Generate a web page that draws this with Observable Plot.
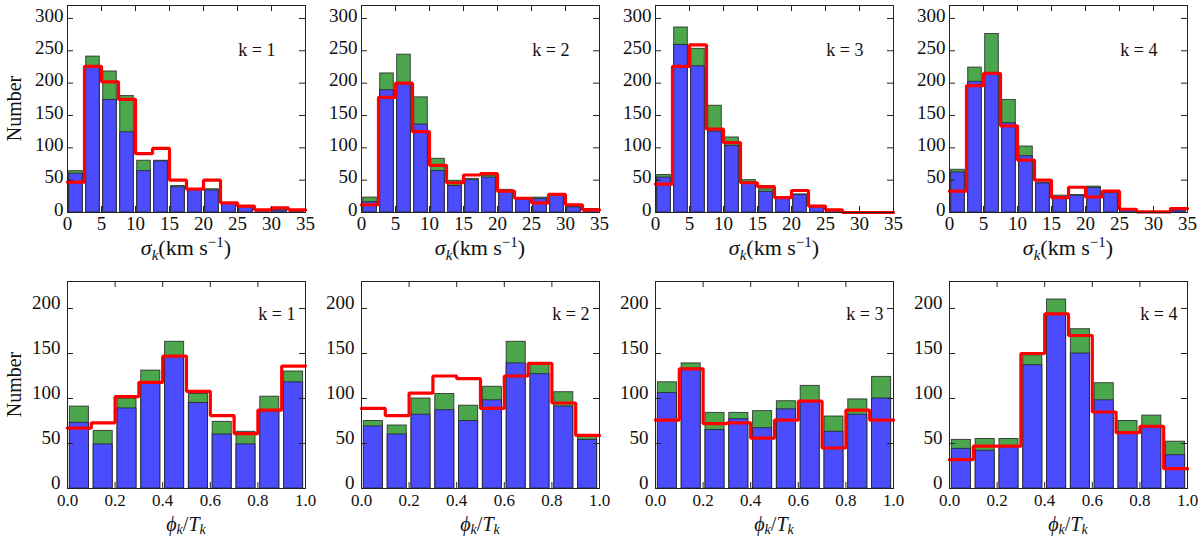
<!DOCTYPE html>
<html>
<head>
<meta charset="utf-8">
<script src="https://cdn.jsdelivr.net/npm/d3@7"></script>
<script src="https://cdn.jsdelivr.net/npm/@observablehq/plot@0.6"></script>
<style>
  body { margin: 0; background: white; }
  #chart { position: relative; width: 1200px; height: 538px; font-family: "Liberation Serif", serif; }
</style>
</head>
<body>
<div id="chart"></div>
<script>
// bin starts
const sigmaBins = [0, 2.5, 5, 7.5, 10, 12.5, 15, 17.5, 20, 22.5, 25, 27.5, 30, 32.5];
const phiBins = [0, 0.1, 0.2, 0.3, 0.4, 0.5, 0.6, 0.7, 0.8, 0.9];
const sigmaTicks = [0, 5, 10, 15, 20, 25, 30, 35];
const phiTicks = [0, 0.2, 0.4, 0.6, 0.8, 1.0];
const sigmaYTicks = [0, 50, 100, 150, 200, 250, 300];
const phiYTicks = [0, 50, 100, 150, 200];
const kLabels = ['k = 1', 'k = 2', 'k = 3', 'k = 4'];

// sigma_k histograms (green = all, blue = subset, red = step)
const sigmaGreen = [
  [64, 241, 218, 180, 80, 80, 41, 35, 36, 14, 9, 3, 4, 2],
  [23, 215, 244, 178, 83, 49, 52, 57, 35, 21, 23, 26, 9, 5],
  [58, 286, 253, 165, 116, 50, 36, 22, 28, 9, 4, 0, 0, 0],
  [66, 224, 276, 174, 102, 46, 26, 27, 40, 31, 5, 0, 0, 4]
];
const sigmaBlue = [
  [60, 226, 174, 124, 64, 79, 39, 35, 34, 14, 9, 3, 3, 2],
  [16, 189, 198, 136, 64, 41, 50, 54, 33, 20, 21, 26, 8, 5],
  [54, 259, 226, 125, 103, 46, 32, 21, 27, 9, 3, 0, 0, 0],
  [62, 202, 214, 138, 87, 45, 23, 26, 38, 30, 5, 0, 0, 3]
];
const sigmaRed = [
  [47, 226, 202, 175, 91, 99, 50, 36, 50, 15, 10, 4, 7, 4],
  [12, 178, 200, 125, 73, 46, 58, 60, 33, 22, 15, 28, 12, 4],
  [44, 226, 259, 129, 108, 46, 40, 23, 34, 10, 4, 0, 0, 0],
  [33, 196, 215, 134, 81, 50, 23, 39, 24, 33, 5, 1, 1, 6]
];

// phi_k / T_k histograms
const phiGreen = [
  [91, 64, 100, 131, 163, 105, 74, 63, 102, 130],
  [75, 70, 100, 105, 92, 113, 163, 138, 107, 58],
  [118, 139, 84, 84, 86, 97, 114, 80, 99, 124],
  [54, 55, 55, 148, 210, 177, 117, 75, 81, 52]
];
const phiBlue = [
  [73, 49, 89, 116, 147, 95, 60, 49, 86, 118],
  [69, 60, 82, 87, 75, 98, 139, 127, 91, 54],
  [106, 133, 65, 77, 67, 88, 97, 63, 82, 100],
  [44, 42, 47, 137, 194, 150, 98, 61, 69, 37]
];
const phiRed = [
  [67, 73, 102, 118, 147, 108, 81, 61, 87, 136],
  [89, 81, 106, 125, 122, 89, 125, 139, 95, 59],
  [76, 133, 72, 73, 56, 76, 97, 45, 87, 76],
  [32, 47, 47, 150, 194, 170, 85, 62, 69, 22]
];

const ML = 55, FW = 238, MR = 14, STEP = 294, X0 = 12;
const font = '"Liberation Serif", "DejaVu Serif", serif';
const green = '#4ca64c', blue = '#4c4cff', edge = '#222';

function panel(o) {
  const binW = o.bins[1] - o.bins[0];
  const rows = o.bins.map((b, i) => ({x1: b + 0.1 * binW, x2: b + 0.9 * binW, g: o.green[i], b: o.blue[i]}));
  const step = o.bins.map((b, i) => ({x: b, y: o.red[i]}));
  step.push({x: o.xDomain[1], y: o.red[o.red.length - 1]});
  const FH = o.height - o.mt - o.mb;
  const tl = 6;

  const svg = Plot.plot({
    width: ML + FW + MR,
    height: o.height,
    marginLeft: ML,
    marginRight: MR,
    marginTop: o.mt,
    marginBottom: o.mb,
    style: {background: 'transparent', overflow: 'visible', fontFamily: font, fontSize: '19px', color: '#111'},
    x: {domain: o.xDomain},
    y: {domain: o.yDomain},
    marks: [
      Plot.rectY(rows, {x1: 'x1', x2: 'x2', y: 'g', fill: green, stroke: edge, strokeOpacity: 0.8}),
      Plot.rectY(rows, {x1: 'x1', x2: 'x2', y: 'b', fill: blue, stroke: edge, strokeOpacity: 0.8}),
      Plot.line(step, {x: 'x', y: 'y', curve: 'step-after', stroke: '#ff0000', strokeWidth: 3.2, strokeLinejoin: 'miter'}),
      Plot.frame({stroke: edge}),
      Plot.tickX(o.xTicks, {x: d => d, insetTop: FH - tl, stroke: edge}),
      Plot.tickX(o.xTicks, {x: d => d, insetBottom: FH - tl, stroke: edge}),
      Plot.tickY(o.yTicks, {y: d => d, insetRight: FW - tl, stroke: edge}),
      Plot.tickY(o.yTicks, {y: d => d, insetLeft: FW - tl, stroke: edge}),
      Plot.axisX(o.xTicks, {tickSize: 0, tickPadding: o.xPad, tickFormat: o.xFormat, label: null, fontSize: o.xFs, fontFamily: font}),
      Plot.axisY(o.yTicks, {tickSize: 0, tickPadding: o.yPad, dy: o.yDy, label: null, fontSize: 19, fontFamily: font}),
      Plot.text([o.k], {frameAnchor: 'top-right', dx: o.kdx, dy: o.kdy, textAnchor: 'end', fontSize: 18, fontFamily: font})
    ]
  });

  svg.style.position = 'absolute';
  svg.style.left = o.left + 'px';
  svg.style.top = o.top + 'px';

  // x label with italic math and sub/superscripts
  const t = d3.select(svg).append('text')
    .attr('x', ML + FW / 2).attr('y', o.labelY)
    .attr('text-anchor', 'middle').attr('font-size', o.labelFs).attr('fill', '#111')
    .attr('font-family', font);
  for (const part of o.label) {
    const s = t.append('tspan').text(part.t);
    if (part.i) s.attr('font-style', 'italic');
    if (part.dy) s.attr('dy', part.dy);
    if (part.fs) s.attr('font-size', part.fs);
  }

  if (o.showY) {
    d3.select(svg).append('text')
      .attr('transform', `translate(2,${o.mt + FH / 2}) rotate(-90)`)
      .attr('text-anchor', 'middle').attr('dominant-baseline', 'central')
      .attr('font-size', 20).attr('font-family', font).attr('fill', '#111')
      .text('Number');
  }
  document.getElementById('chart').appendChild(svg);
}

const sigmaLabel = [
  {t: 'σ', i: true},
  {t: 'k', i: true, dy: 5, fs: 15},
  {t: '(km s', dy: -5},
  {t: '−1', dy: -8, fs: 15},
  {t: ')', dy: 8}
];
const phiLabel = [
  {t: 'ϕ', i: true},
  {t: 'k', i: true, dy: 3, fs: 14},
  {t: '/', dy: -3},
  {t: 'T', i: true},
  {t: 'k', i: true, dy: 3, fs: 14}
];

for (let j = 0; j < 4; j++) {
  panel({
    left: X0 + STEP * j, top: 0, height: 268, mt: 5, mb: 56,
    bins: sigmaBins, green: sigmaGreen[j], blue: sigmaBlue[j], red: sigmaRed[j],
    xDomain: [0, 35], yDomain: [0, 320], xTicks: sigmaTicks, yTicks: sigmaYTicks,
    xFormat: d => d, xPad: 4, xFs: 19, yPad: 4, yDy: -3, k: kLabels[j], kdx: -30, kdy: 38,
    label: sigmaLabel, labelFs: 22, labelY: 255, showY: j === 0
  });
  panel({
    left: X0 + STEP * j, top: 266, height: 272, mt: 15, mb: 50,
    bins: phiBins, green: phiGreen[j], blue: phiBlue[j], red: phiRed[j],
    xDomain: [0, 1], yDomain: [0, 230], xTicks: phiTicks, yTicks: phiYTicks,
    xFormat: d3.format('.1f'), xPad: 5, xFs: 17, yPad: 7, yDy: -6, k: kLabels[j], kdx: -10, kdy: 26,
    label: phiLabel, labelFs: 20, labelY: 265, showY: j === 0
  });
}
</script>
</body>
</html>
